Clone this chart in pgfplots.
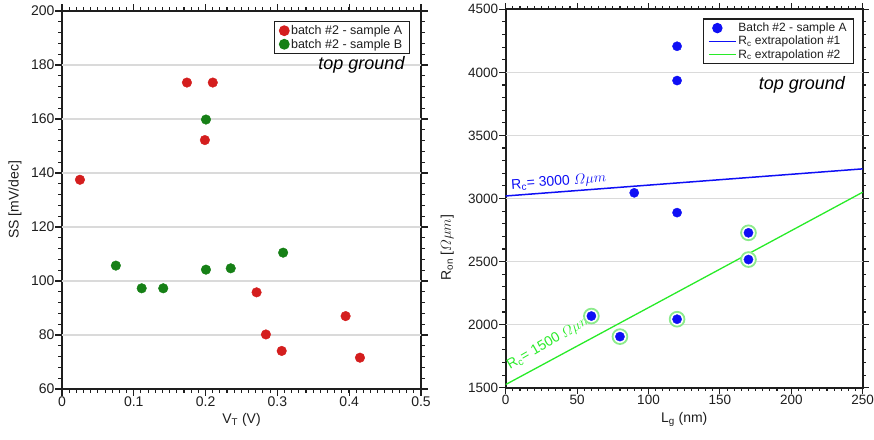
\documentclass[border=0pt]{standalone}
\usepackage{amsmath}
\usepackage{fontspec}
\setmainfont{Liberation Sans}
\usepackage{pgfplots}
\pgfplotsset{compat=1.18}
\definecolor{cRed}{RGB}{212,30,30}
\definecolor{cGreen}{RGB}{22,128,22}
\definecolor{cBlue}{RGB}{15,15,245}
\definecolor{cLime}{RGB}{40,235,40}
\definecolor{cRing}{RGB}{140,235,140}
\definecolor{cAx}{RGB}{30,30,30}
\definecolor{cGrid}{RGB}{218,218,218}
\pgfplotsset{
  mylegline/.style={legend image code/.code={\draw[##1] (0pt,0pt) -- (27pt,0pt);}},
}
\tikzset{tk/.style={cAx, line width=1.1pt}}
\begin{document}
\begin{tikzpicture}
\begin{axis}[scale only axis, clip=false,
  at={(62pt,50pt)}, anchor=south west, width=359pt, height=378pt,
  /pgf/number format/assume math mode=true,
  /pgf/number format/1000 sep={},
  scaled ticks=false,
  axis line style={draw=cAx, line width=1.6pt},
  major tick length=0pt, minor tick length=0pt,
  tick label style={text=cAx, font=\fontsize{14}{16}\selectfont},
  xticklabel style={yshift=-4pt}, yticklabel style={xshift=-4pt},
  label style={text=cAx, font=\fontsize{14}{16}\selectfont},
  legend style={draw=cAx, line width=1.2pt, fill=white, font=\fontsize{12.5}{14}\selectfont,
    inner xsep=5pt, inner ysep=2pt, row sep=-1pt, text=cAx,
    at={(axis description cs:0.969,0.974)}, anchor=north east},
  legend cell align=left,
  xmin=0, xmax=0.5, ymin=60, ymax=200,
  xtick={0,0.1,0.2,0.3,0.4,0.5}, ytick={60,80,...,200},
  xticklabels={0,0.1,0.2,0.3,0.4,0.5},
  xlabel={V\textsubscript{T} (V)}, ylabel={SS [mV/dec]},
  ylabel style={at={(axis description cs:-0.131,0.5)}, anchor=center},
  xlabel style={at={(axis description cs:0.5,-0.055)}, anchor=north},
]
\draw[cGrid, line width=1.1pt] (axis cs:0,80) -- (axis cs:0.5,80);
\draw[cGrid, line width=1.1pt] (axis cs:0,100) -- (axis cs:0.5,100);
\draw[cGrid, line width=1.1pt] (axis cs:0,120) -- (axis cs:0.5,120);
\draw[cGrid, line width=1.1pt] (axis cs:0,140) -- (axis cs:0.5,140);
\draw[cGrid, line width=1.1pt] (axis cs:0,160) -- (axis cs:0.5,160);
\draw[cGrid, line width=1.1pt] (axis cs:0,180) -- (axis cs:0.5,180);
\pgfplotsinvokeforeach{0,0.01,...,0.5}{
  \draw[tk] (axis cs:#1,60) -- ++(0pt,-3.5pt);
  \draw[tk] (axis cs:#1,200) -- ++(0pt,3.5pt);}
\pgfplotsinvokeforeach{0,0.1,0.2,0.3,0.4,0.5}{
  \draw[tk] (axis cs:#1,60) -- ++(0pt,-6.5pt);
  \draw[tk] (axis cs:#1,200) -- ++(0pt,6.5pt);}
\pgfplotsinvokeforeach{60,64,...,200}{
  \draw[tk] (axis cs:0,#1) -- ++(-3.5pt,0pt);
  \draw[tk] (axis cs:0.5,#1) -- ++(3.5pt,0pt);}
\pgfplotsinvokeforeach{60,80,...,200}{
  \draw[tk] (axis cs:0,#1) -- ++(-6.5pt,0pt);
  \draw[tk] (axis cs:0.5,#1) -- ++(6.5pt,0pt);}
\addplot[only marks, mark=*, mark size=4.8pt, color=cRed] coordinates {
(0.025,137.5) (0.174,173.5) (0.210,173.5) (0.199,152.2) (0.271,95.8)
(0.284,80.2) (0.306,74.1) (0.395,87.0) (0.415,71.6)};
\addlegendentry{batch \#2 - sample A}
\addplot[only marks, mark=*, mark size=4.8pt, color=cGreen] coordinates {
(0.2005,159.8) (0.075,105.7) (0.111,97.3) (0.141,97.3) (0.2005,104.2)
(0.235,104.7) (0.308,110.5)};
\addlegendentry{batch \#2 - sample B}
\node[anchor=base east, font=\fontsize{18}{20}\selectfont\itshape, text=black]
  at (axis description cs:0.964,0.844) {top ground};
\end{axis}

\begin{axis}[scale only axis, clip=false,
  at={(505.7pt,51.3pt)}, anchor=south west, width=357pt, height=378.4pt,
  /pgf/number format/assume math mode=true,
  /pgf/number format/1000 sep={},
  scaled ticks=false,
  axis line style={draw=cAx, line width=1.6pt},
  major tick length=0pt, minor tick length=0pt,
  tick label style={text=cAx, font=\fontsize{13.5}{15}\selectfont},
  xticklabel style={yshift=-4pt}, yticklabel style={xshift=-4pt},
  label style={text=cAx, font=\fontsize{14}{16}\selectfont},
  legend style={draw=cAx, line width=1.2pt, fill=white, font=\fontsize{12}{13.5}\selectfont,
    inner xsep=5pt, inner ysep=2pt, row sep=-1pt, text=cAx,
    at={(axis description cs:0.976,0.976)}, anchor=north east},
  legend cell align=left,
  xmin=0, xmax=250, ymin=1500, ymax=4500,
  xtick={0,50,...,250}, ytick={1500,2000,...,4500},
  xlabel={L\textsubscript{g} (nm)}, ylabel={R\textsubscript{on} [$\varOmega\mu m$]},
  ylabel style={at={(axis description cs:-0.164,0.37)}, anchor=center},
  xlabel style={at={(axis description cs:0.5,-0.055)}, anchor=north},
]
\draw[cGrid, line width=1.1pt] (axis cs:0,2000) -- (axis cs:250,2000);
\draw[cGrid, line width=1.1pt] (axis cs:0,2500) -- (axis cs:250,2500);
\draw[cGrid, line width=1.1pt] (axis cs:0,3000) -- (axis cs:250,3000);
\draw[cGrid, line width=1.1pt] (axis cs:0,3500) -- (axis cs:250,3500);
\draw[cGrid, line width=1.1pt] (axis cs:0,4000) -- (axis cs:250,4000);
\pgfplotsinvokeforeach{0,5,...,250}{
  \draw[tk] (axis cs:#1,1500) -- ++(0pt,-3.5pt);
  \draw[tk] (axis cs:#1,4500) -- ++(0pt,3.5pt);}
\pgfplotsinvokeforeach{0,50,...,250}{
  \draw[tk] (axis cs:#1,1500) -- ++(0pt,-6.5pt);
  \draw[tk] (axis cs:#1,4500) -- ++(0pt,6.5pt);}
\pgfplotsinvokeforeach{1500,1600,...,4500}{
  \draw[tk] (axis cs:0,#1) -- ++(-3.5pt,0pt);
  \draw[tk] (axis cs:250,#1) -- ++(3.5pt,0pt);}
\pgfplotsinvokeforeach{1500,2000,...,4500}{
  \draw[tk] (axis cs:0,#1) -- ++(-6.5pt,0pt);
  \draw[tk] (axis cs:250,#1) -- ++(6.5pt,0pt);}
\addplot[cBlue, line width=1.5pt, forget plot] coordinates {(0,3020) (250,3235)};
\addplot[cLime, line width=1.3pt, forget plot] coordinates {(0,1525) (250,3050)};
\addplot[only marks, mark=*, mark size=7.4pt, forget plot,
  mark options={draw=cRing, fill=white, line width=1.8pt}] coordinates {
(60,2068) (80,1905) (120,2043) (170,2728) (170,2516)};
\addplot[only marks, mark=*, mark size=4.6pt, color=cBlue] coordinates {
(120,4207) (120,3935) (90,3045) (120,2888) (170,2728) (170,2516)
(60,2068) (80,1905) (120,2043)};
\addlegendentry{Batch \#2 - sample A}
\addlegendimage{mylegline, cBlue, line width=1.3pt}
\addlegendentry{R\textsubscript{c} extrapolation \#1}
\addlegendimage{mylegline, cLime, line width=1.3pt}
\addlegendentry{R\textsubscript{c} extrapolation \#2}
\node[anchor=base east, font=\fontsize{18}{20}\selectfont\itshape, text=black]
  at (axis description cs:0.96,0.789) {top ground};
\node[anchor=base west, rotate=4.3, text=cBlue, font=\fontsize{14}{16}\selectfont, inner sep=0pt]
  at (axis cs:4,3075) {R$_{\text{c}}$= 3000 $\varOmega\mu m$};
\node[anchor=base west, rotate=30, text=cLime, font=\fontsize{14}{16}\selectfont, inner sep=0pt]
  at (axis cs:3,1645) {R$_{\text{c}}$= 1500 $\varOmega\mu m$};
\end{axis}
\pgfresetboundingbox
\path[use as bounding box] (0,0) rectangle (874pt,439pt);
\end{tikzpicture}
\end{document}
